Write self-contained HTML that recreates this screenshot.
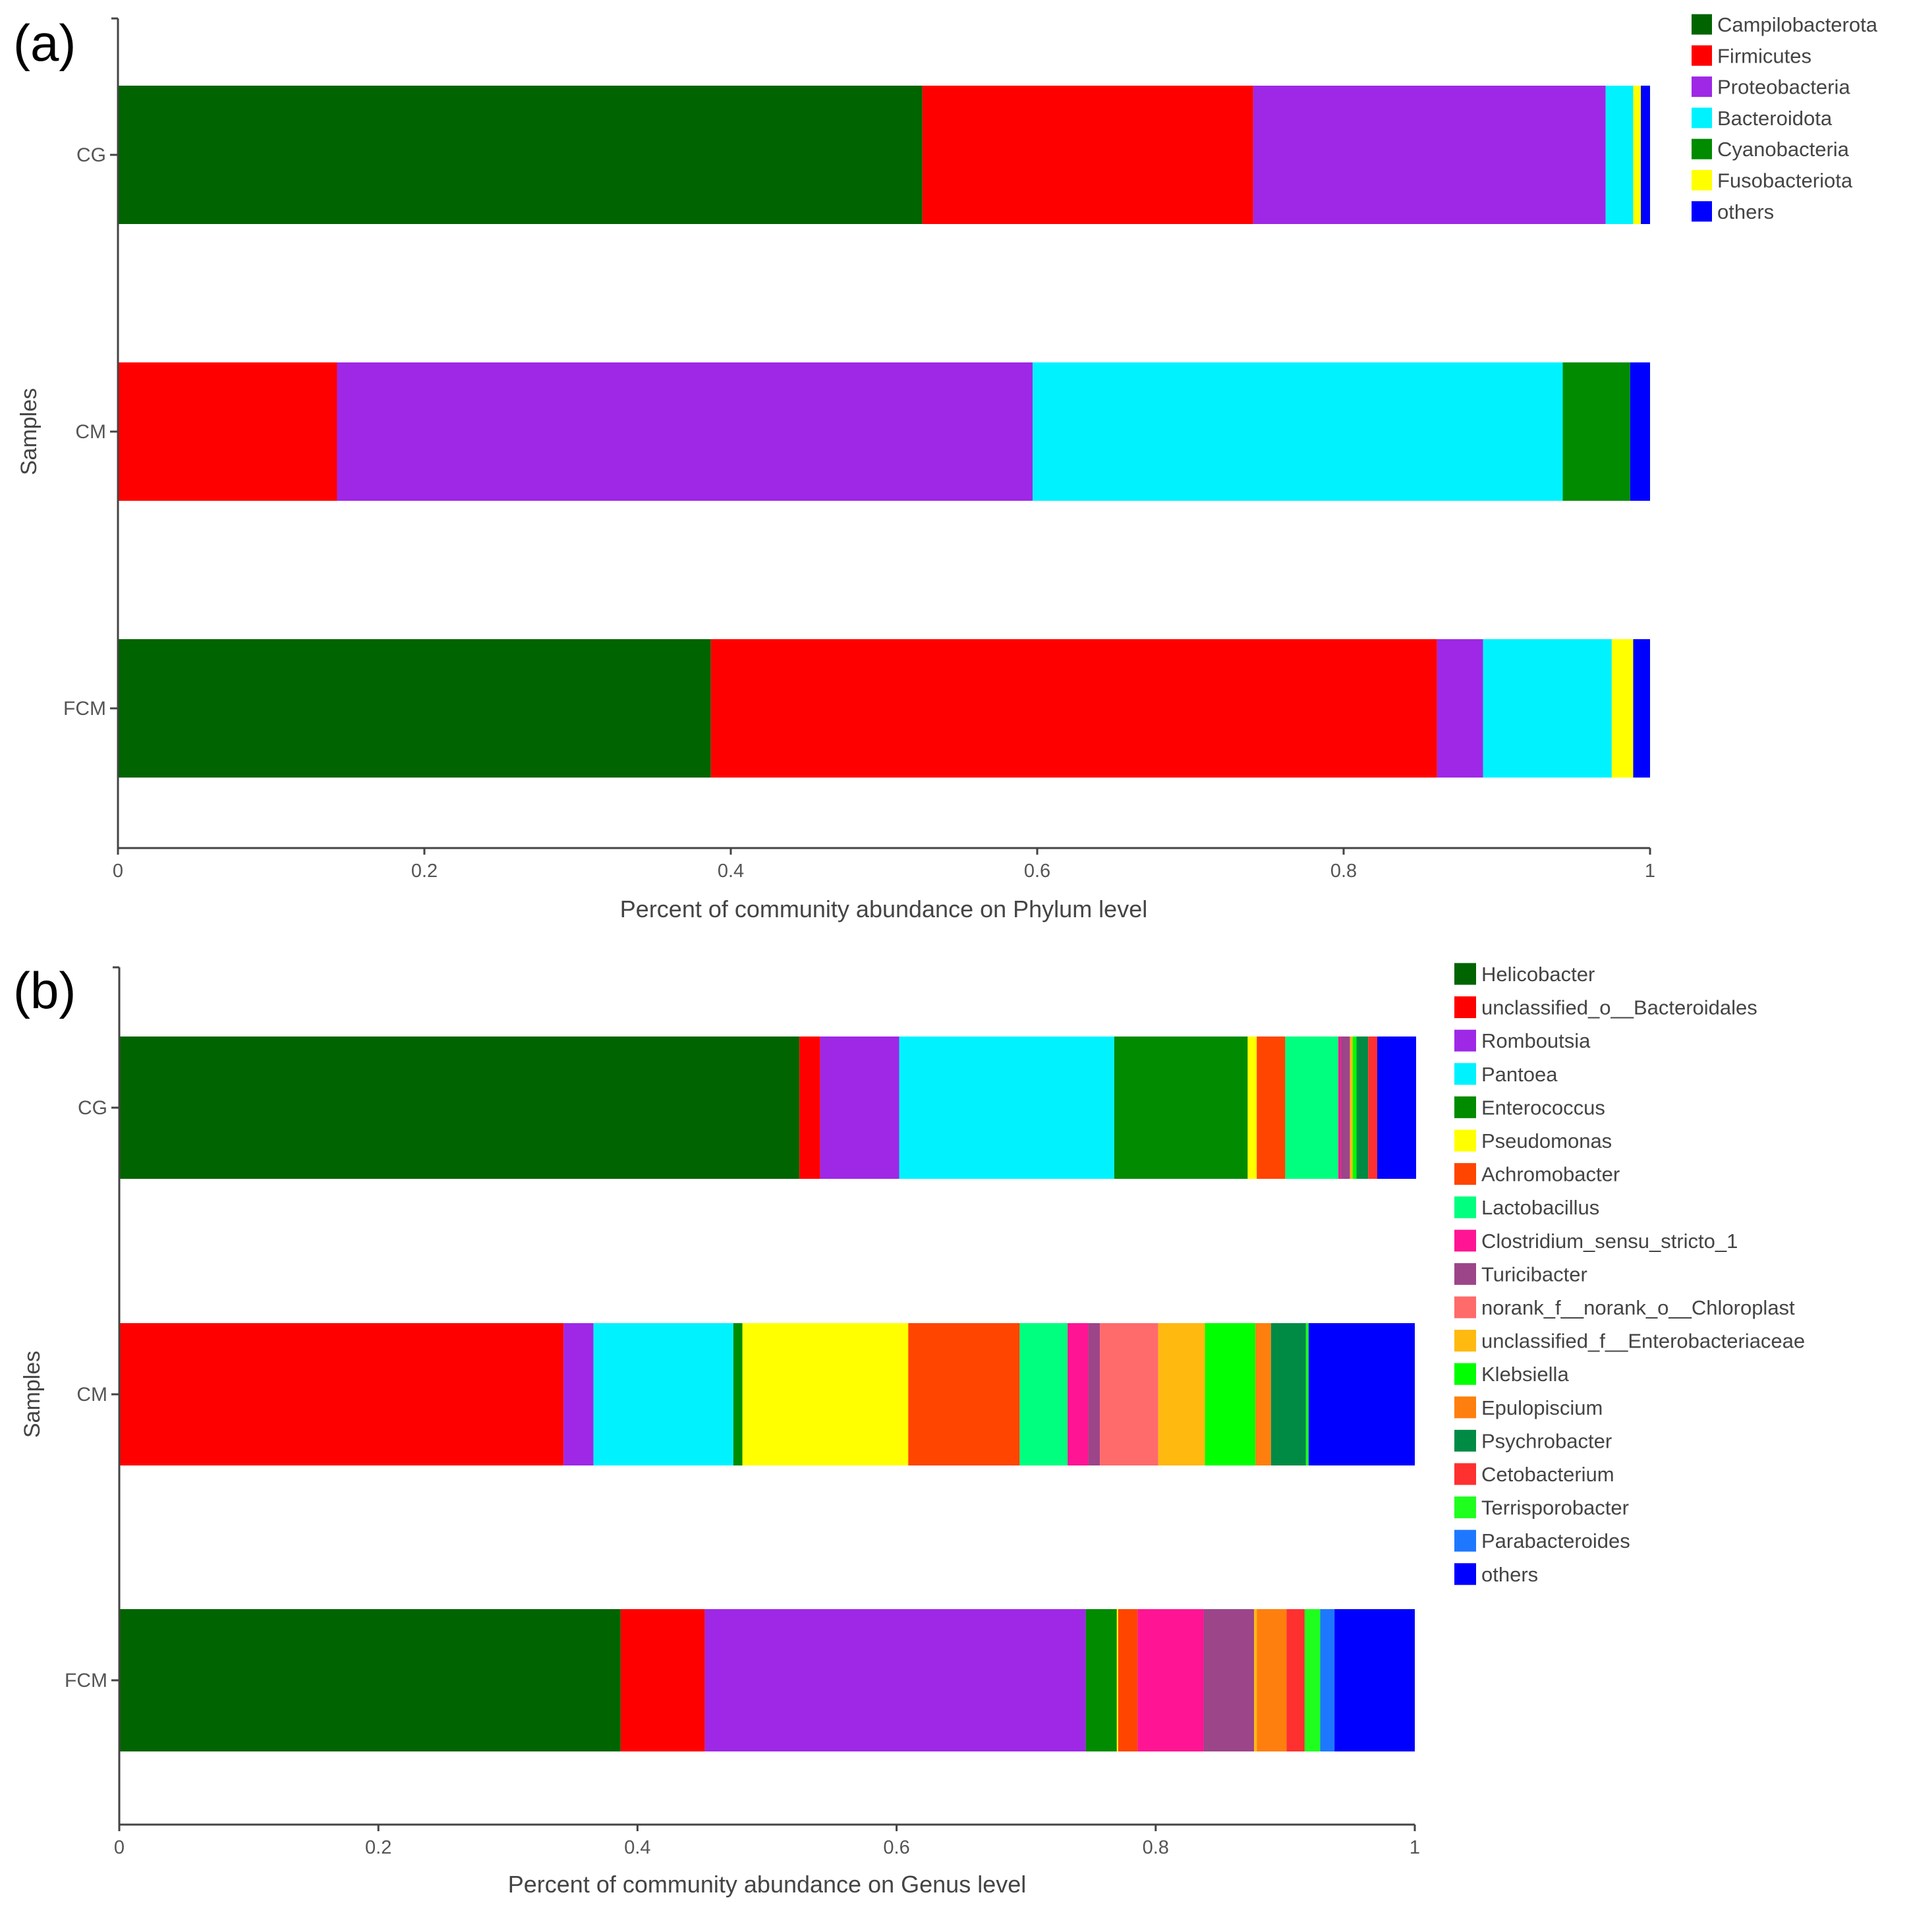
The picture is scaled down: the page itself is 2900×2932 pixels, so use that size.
<!DOCTYPE html>
<html><head><meta charset="utf-8"><style>
html,body{margin:0;padding:0;background:#fff}
svg{display:block;font-family:"Liberation Sans",Arial,sans-serif}
</style></head><body>
<svg id="chart" width="2900" height="2932" viewBox="0 0 2900 2932" xmlns="http://www.w3.org/2000/svg"></svg>
<script>
const samples = ["CG","CM","FCM"];
const xTicks = [0,0.2,0.4,0.6,0.8,1];
const xTickLabels = ["0","0.2","0.4","0.6","0.8","1"];
// Panel (a): phylum
const phylaNames = ["Campilobacterota","Firmicutes","Proteobacteria","Bacteroidota","Cyanobacteria","Fusobacteriota","others"];
const phylaColors = ["#006400","#FF0000","#9E28E6","#00F2FF","#008B00","#FFFF00","#0000FF"];
const phylaCG  = [0.525,0.216,0.230,0.018,0.000,0.005,0.006];
const phylaCM  = [0.000,0.143,0.454,0.346,0.044,0.000,0.013];
const phylaFCM = [0.387,0.474,0.030,0.084,0.000,0.014,0.011];
// Panel (b): genus
const genusNames = ["Helicobacter","unclassified_o__Bacteroidales","Romboutsia","Pantoea","Enterococcus","Pseudomonas","Achromobacter","Lactobacillus","Clostridium_sensu_stricto_1","Turicibacter","norank_f__norank_o__Chloroplast","unclassified_f__Enterobacteriaceae","Klebsiella","Epulopiscium","Psychrobacter","Cetobacterium","Terrisporobacter","Parabacteroides","others"];
const genusColors = ["#006400","#FF0000","#9E28E6","#00F2FF","#008B00","#FFFF00","#FF4500","#00FF7F","#FF1493","#9C4589","#FF6A6A","#FFB90F","#00FF00","#FF7F0E","#008B45","#FF3030","#1EFF1E","#1E78FF","#0000FF"];
const genusCG  = [0.525,0.016,0.061,0.166,0.103,0.007,0.022,0.041,0.002,0.007,0.000,0.002,0.003,0.000,0.009,0.007,0.000,0.000,0.030];
const genusCM  = [0.000,0.343,0.023,0.108,0.007,0.128,0.086,0.037,0.016,0.009,0.045,0.036,0.039,0.012,0.027,0.000,0.002,0.000,0.082];
const genusFCM = [0.387,0.065,0.294,0.000,0.024,0.001,0.015,0.000,0.051,0.039,0.000,0.002,0.000,0.023,0.000,0.014,0.012,0.011,0.062];

const NS="http://www.w3.org/2000/svg";
const svg=document.getElementById('chart');
function mk(tag,attrs,parent){const e=document.createElementNS(NS,tag);for(const k in attrs)e.setAttribute(k,attrs[k]);(parent||svg).appendChild(e);return e;}

function panel(cfg){
  const g=mk('g',{});
  
  
  const xs=v=>cfg.x0+v*(cfg.x1-cfg.x0);
  const rows=[cfg.cg,cfg.cm,cfg.fcm];
  rows.forEach((vals,i)=>{
    const yc=cfg.yc[i];
    let acc=0;
    vals.forEach((v,j)=>{
      if(v<=0)return;
      const r=mk('rect',{x:xs(acc),y:yc-cfg.bh/2,width:Math.max(0,xs(acc+v)-xs(acc)),height:cfg.bh,fill:cfg.colors[j]},g);
      
      
      acc+=v;
    });
  });
  const ax=mk('line',{x1:cfg.x0,y1:cfg.yTop,x2:cfg.x0,y2:cfg.yBot,stroke:'#444','stroke-width':3},g);
  
  
  mk('line',{x1:cfg.x0-10,y1:cfg.yTop,x2:cfg.x0,y2:cfg.yTop,stroke:'#444','stroke-width':3},g);
  const bx=mk('line',{x1:cfg.x0,y1:cfg.yBot,x2:cfg.x1,y2:cfg.yBot,stroke:'#444','stroke-width':3},g);
  
  
  xTicks.forEach((t,i)=>{
    mk('line',{x1:xs(t),y1:cfg.yBot,x2:xs(t),y2:cfg.yBot+10,stroke:'#444','stroke-width':3},g);
    const tx=mk('text',{x:xs(t),y:cfg.yBot+44,'font-size':29,fill:'#555','text-anchor':'middle'},g);
    tx.textContent=xTickLabels[i];
    
    
  });
  samples.forEach((s,i)=>{
    mk('line',{x1:cfg.x0-12,y1:cfg.yc[i],x2:cfg.x0,y2:cfg.yc[i],stroke:'#444','stroke-width':3},g);
    const tx=mk('text',{x:cfg.x0-18,y:cfg.yc[i]+10,'font-size':30,fill:'#555','text-anchor':'end'},g);
    tx.textContent=s;
    
    
  });
  const yt=mk('text',{x:0,y:0,'font-size':34,fill:'#444','text-anchor':'middle',transform:`translate(${cfg.yTitleX},${cfg.yc[1]}) rotate(-90)`},g);
  yt.textContent='Samples';
  
  
  const xt=mk('text',{x:cfg.xTitleX,y:cfg.xTitleY,'font-size':36,fill:'#444','text-anchor':'middle'},g);
  xt.textContent=cfg.xTitle;
  
  
  const pl=mk('text',{x:20,y:cfg.labelY,'font-size':78,fill:'#000'},g);
  pl.textContent=cfg.label;
  
  
  cfg.names.forEach((n,i)=>{
    const yc=cfg.legY0+i*cfg.legDy;
    const lg=mk('g',{},g);
    
    
    mk('rect',{x:cfg.legX,y:yc-cfg.sq/2,width:cfg.sq,height:cfg.sq,fill:cfg.colors[i]},lg);
    const t=mk('text',{x:cfg.legX+cfg.sq+8,y:yc+11,'font-size':31,fill:'#444'},lg);
    t.textContent=n;
  });
}

panel({id:'phylum',x0:179,x1:2504,yTop:28,yBot:1287,yc:[235,655,1075],bh:210,
  cg:phylaCG,cm:phylaCM,fcm:phylaFCM,names:phylaNames,colors:phylaColors,
  yTitleX:55,xTitleX:1341,xTitleY:1392,xTitle:'Percent of community abundance on Phylum level',
  label:'(a)',labelY:92,legX:2567,legY0:37,legDy:47.3,sq:31});
panel({id:'genus',x0:181,x1:2147,yTop:1468,yBot:2769,yc:[1681,2116,2550],bh:216,
  cg:genusCG,cm:genusCM,fcm:genusFCM,names:genusNames,colors:genusColors,
  yTitleX:60,xTitleX:1164,xTitleY:2872,xTitle:'Percent of community abundance on Genus level',
  label:'(b)',labelY:1530,legX:2207,legY0:1478,legDy:50.6,sq:33});
</script>
</body></html>
